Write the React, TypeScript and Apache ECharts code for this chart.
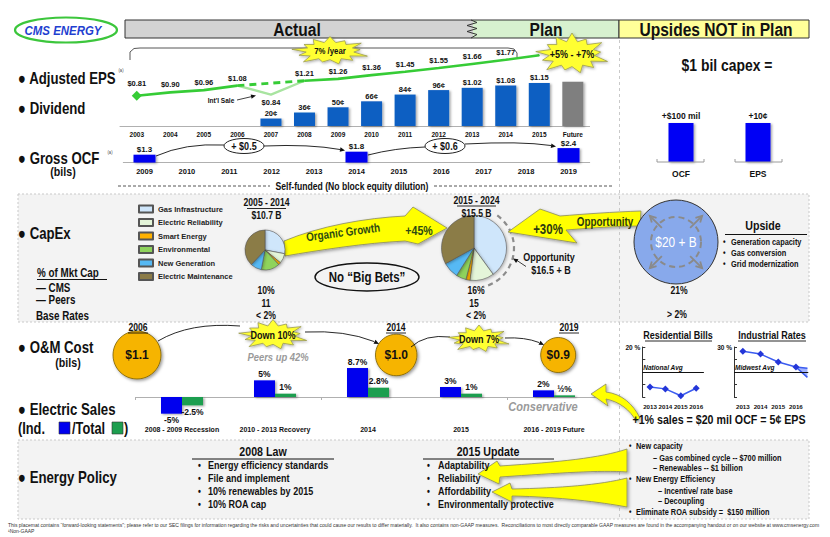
import React, { useEffect, useRef } from "react";
import * as echarts from "echarts";

const FONT = '"Liberation Sans",Arial,Helvetica,sans-serif';
const NARROW = 0.82;

// ---------- data ----------
const epsYears = ["2003", "2004", "2005", "2006", "2007", "2008", "2009", "2010", "2011", "2012", "2013", "2014", "2015", "Future"];
const adjustedEps = [0.81, 0.9, 0.96, 1.08, 0.84, 1.21, 1.26, 1.36, 1.45, 1.55, 1.66, 1.77, 1.89, null];
const dividend = [null, null, null, null, 0.2, 0.36, 0.5, 0.66, 0.84, 0.96, 1.02, 1.08, 1.15, 1.18];

const ocfYears = ["2009", "2010", "2011", "2012", "2013", "2014", "2015", "2016", "2017", "2018", "2019"];
const grossOcf = [1.3, null, null, null, null, 1.8, null, null, null, null, 2.4];

const upsideCats = ["OCF", "EPS"];
const upsideOcfMil = [100, null];
const upsideEpsCents = [null, 10];

const capexNames = ["Gas Infrastructure", "Electric Reliability", "Smart Energy", "Environmental", "New Generation", "Electric Maintenance"];
const capexColors = ["#cfe6fb", "#e4f5d9", "#ffb200", "#8fd35c", "#56b9f4", "#8b7b47"];
const capex2005to2014 = [28, 8, 2, 15, 9, 38];
const capex2015to2024 = [40, 12, 2, 5, 8, 33];

const omYears = [2006, 2014, 2019];
const omCost = [1.1, 1.0, 0.9];

const salesPeriods = ["2008 - 2009 Recession", "2010 - 2013 Recovery", "2014", "2015", "2016 - 2019 Future"];
const salesIndustrial = [-5, 5, 8.7, 3, 2];
const salesTotal = [-2.5, 1, 2.8, 1, 0.5];

const billYears = ["2013", "2014", "2015", "2016"];
const residentialVsNational = [-12, -13.5, -19, -13];
const industrialYears = [2013, 2014, 2015, 2016];
const industrialVsMidwest = [25, 21.5, 12, 6];
const industrialFan = [[2016, 6, 2016.65, 4.4, -6.4]];

// ---------- decorative shapes ----------
const PATHS: Record<string, string> = {
  arrowOrganic: "M284 241 C320 226 365 218 405 216 L413 207 L447 228 L418 244 L405 241 C365 243 320 250 285 256 Z",
  arrowOpp: "M641 211 C612 212 585 214 560 216 L540 209 L508 232 L577 243 L566 230 C592 228 616 226 640 226 Z",
  arrowHalf: "M636 421 C630 410 620 402 606 399 L608 406 L591 394 L606 384 L606 392 C622 394 633 404 640 418 Z",
  arrowRel: "M627 449 C600 458 560 462 500 466 L497 461 L478 474 L499 484 L500 477 C560 473 600 470 627 472 Z",
  arrowAff: "M627 478 C600 485 560 488 512 489 L510 483 L492 492 L512 502 L512 496 C560 497 600 502 627 507 Z",
};
Object.keys(PATHS).forEach((k) => {
  echarts.graphic.registerShape(k, echarts.graphic.extendPath(PATHS[k], {}));
});

function T(x: number, y: number, text: string, size = 10, o: any = {}) {
  return {
    type: "text", x, y, z: o.z ?? 20, silent: true, rotation: o.rot || 0,
    scaleX: o.sx ?? NARROW,
    style: {
      text, fill: o.color || "#111", fontSize: size, fontWeight: o.weight || "bold",
      fontStyle: o.italic ? "italic" : "normal", fontFamily: FONT,
      align: o.align || "center", verticalAlign: "middle",
    },
  };
}
function L(x1: number, y1: number, x2: number, y2: number, o: any = {}) {
  return {
    type: "line", z: o.z ?? 15, silent: true, shape: { x1, y1, x2, y2 },
    style: { stroke: o.color || "#111", lineWidth: o.w || 1, lineDash: o.dash || null },
  };
}
function Q(x1: number, y1: number, cx: number, cy: number, x2: number, y2: number, o: any = {}) {
  return {
    type: "bezierCurve", z: o.z ?? 15, silent: true,
    shape: { x1, y1, x2, y2, cpx1: cx, cpy1: cy },
    style: { stroke: o.color || "#111", lineWidth: o.w || 1, fill: null },
  };
}
function head(tx: number, ty: number, fx: number, fy: number, s = 5, color = "#111", z = 16) {
  const dx = tx - fx, dy = ty - fy, d = Math.hypot(dx, dy) || 1;
  const ux = dx / d, uy = dy / d, px = -uy, py = ux;
  const bx = tx - ux * s, by = ty - uy * s;
  return {
    type: "polygon", z, silent: true,
    shape: { points: [[tx, ty], [bx + px * s * 0.45, by + py * s * 0.45], [bx - px * s * 0.45, by - py * s * 0.45]] },
    style: { fill: color },
  };
}
function star(cx: number, cy: number, rx: number, ry: number, z = 21) {
  const f = [1, 0.8, 0.95, 0.76, 1, 0.86, 0.92, 0.78, 1, 0.83, 0.96, 0.79, 0.9];
  const n = f.length;
  const pts: number[][] = [];
  for (let i = 0; i < n * 2; i++) {
    const a = (Math.PI * i) / n - Math.PI / 2;
    const r = i % 2 === 0 ? f[i / 2] : 0.6;
    pts.push([cx + Math.cos(a) * rx * r, cy + Math.sin(a) * ry * r]);
  }
  return {
    type: "polygon", z, silent: true, shape: { points: pts },
    style: { fill: "#ffff33", stroke: "#9a9a50", lineWidth: 0.8, shadowBlur: 3, shadowColor: "rgba(0,0,0,0.35)", shadowOffsetX: 1, shadowOffsetY: 1 },
  };
}
function yellow(type: string, z = 5) {
  return {
    type, x: 0, y: 0, z, silent: true,
    style: { fill: "#ffff00", stroke: "#8a8a60", lineWidth: 0.8, shadowBlur: 3, shadowColor: "rgba(0,0,0,0.35)", shadowOffsetX: 1.5, shadowOffsetY: 1.5 },
  };
}

function buildGraphics() {
  const g: any[] = [];
  // panels
  g.push({ type: "rect", z: -10, silent: true, shape: { x: 18, y: 194, width: 791, height: 128 }, style: { fill: "#f3f3f3", stroke: "#c9c9c9", lineDash: [2, 2], lineWidth: 1 } });
  g.push({ type: "rect", z: -10, silent: true, shape: { x: 18, y: 440, width: 791, height: 79 }, style: { fill: "#f3f3f3", stroke: "#c9c9c9", lineDash: [2, 2], lineWidth: 1 } });
  g.push(L(619.5, 40, 619.5, 519, { color: "#c9c9c9", dash: [3, 3], z: -5 }));

  // header
  g.push({ type: "rect", z: 5, silent: true, shape: { x: 125, y: 20, width: 348, height: 18 }, style: { fill: "#d3d3d3" } });
  g.push({ type: "rect", z: 5, silent: true, shape: { x: 473, y: 20, width: 146, height: 18 }, style: { fill: "#d7f1cf" } });
  g.push({ type: "polyline", z: 7, silent: true, shape: { points: [[471, 20], [477, 22.5], [467, 25.5], [477, 28.5], [467, 31.5], [477, 34.5], [471, 38]] }, style: { stroke: "#333", lineWidth: 1, fill: null } });
  g.push({ type: "rect", z: 6, silent: true, shape: { x: 125, y: 20, width: 494, height: 18 }, style: { fill: null, stroke: "#333", lineWidth: 1 } });
  g.push({ type: "rect", z: 6, silent: true, shape: { x: 619, y: 20, width: 190, height: 18 }, style: { fill: "#ffff99", stroke: "#333", lineWidth: 1 } });
  g.push(T(297, 29.5, "Actual", 19));
  g.push(T(546, 29.5, "Plan", 19));
  g.push(T(716, 29.5, "Upsides NOT in Plan", 19));

  // logo
  g.push({ type: "ellipse", z: 10, silent: true, shape: { cx: 66, cy: 30, rx: 51, ry: 12.5 }, style: { fill: null, stroke: "#3cc63c", lineWidth: 2.2 } });
  g.push(T(63, 31, "CMS ENERGY", 13, { color: "#1f3fd0", italic: true, sx: 0.88 }));

  // left row titles
  g.push(T(18, 78, "● Adjusted EPS", 16.5, { align: "left", sx: 0.8 }));
  g.push(T(121, 70, "(a)", 5, { color: "#444", weight: "normal" }));
  g.push(T(18, 108, "● Dividend", 16.5, { align: "left", sx: 0.8 }));
  g.push(T(18, 158, "● Gross OCF", 16.5, { align: "left", sx: 0.8 }));
  g.push(T(110, 152, "(a)", 5, { color: "#444", weight: "normal" }));
  g.push(T(63, 172, "(bils)", 13));
  g.push(T(18, 233, "● CapEx", 16.5, { align: "left", sx: 0.8 }));
  g.push(T(37, 272.5, "% of Mkt Cap", 12, { align: "left" }));
  g.push(L(37, 279.5, 107, 279.5, { w: 1 }));
  g.push(T(36, 287.5, "— CMS", 12, { align: "left" }));
  g.push(T(36, 300, "— Peers", 12, { align: "left" }));
  g.push(T(36, 315.5, "Base Rates", 12, { align: "left" }));
  g.push(T(18, 347, "● O&M Cost", 16.5, { align: "left", sx: 0.8 }));
  g.push(T(68, 363, "(bils)", 13));
  g.push(T(18, 409, "● Electric Sales", 16.5, { align: "left", sx: 0.8 }));
  g.push(T(18, 428.5, "(Ind.", 16, { align: "left", sx: 0.8 }));
  g.push({ type: "rect", z: 20, silent: true, shape: { x: 59, y: 422, width: 11, height: 12 }, style: { fill: "#0000ee", stroke: "#333", lineWidth: 0.6 } });
  g.push(T(72, 428.5, "/Total", 16, { align: "left", sx: 0.8 }));
  g.push({ type: "rect", z: 20, silent: true, shape: { x: 112, y: 422, width: 11, height: 12 }, style: { fill: "#1d9e4f", stroke: "#333", lineWidth: 0.6 } });
  g.push(T(124, 428.5, ")", 16, { align: "left", sx: 0.8 }));
  g.push(T(18, 477, "● Energy Policy", 16.5, { align: "left", sx: 0.8 }));

  // EPS decorations
  g.push({ type: "polyline", z: 8, silent: true, shape: { points: [[130, 60], [130, 52], [134, 48.5], [140, 48], [508, 48], [514, 49], [517, 53], [517, 57]] }, style: { stroke: "#444", lineWidth: 0.9, fill: null } });
  g.push(star(330, 51, 40, 14.5));
  g.push(T(330, 51, "7% /year", 9.5, { z: 22 }));
  g.push(star(572, 54, 38, 21));
  g.push(T(572, 54, "+5% - +7%", 11, { z: 22 }));
  g.push(T(221, 100, "Int'l Sale", 8));
  g.push(L(237, 100, 252, 96.5, { w: 0.8 }));
  g.push(head(256, 95.5, 237, 100, 5));

  // upside capex
  g.push(T(727, 65, "$1 bil capex =", 17));
  [[657, 704], [735, 782]].forEach(([a, b]) => {
    g.push(L(a, 162, b, 162, { color: "#9a9a9a" }));
    g.push(L(a, 159, a, 162, { color: "#9a9a9a" }));
    g.push(L(b, 159, b, 162, { color: "#9a9a9a" }));
  });

  // OCF
  g.push({ type: "ellipse", z: 18, silent: true, shape: { cx: 244, cy: 146, rx: 20, ry: 7.5 }, style: { fill: "#fff", stroke: "#222", lineWidth: 1 } });
  g.push(T(244, 146, "+ $0.5", 11));
  g.push({ type: "ellipse", z: 18, silent: true, shape: { cx: 445, cy: 146, rx: 20, ry: 7.5 }, style: { fill: "#fff", stroke: "#222", lineWidth: 1 } });
  g.push(T(445, 146, "+ $0.6", 11));
  g.push(Q(156, 156, 185, 143, 224, 145, { w: 0.9 }));
  g.push(Q(264, 146, 310, 144, 340, 149.5, { w: 0.9 }));
  g.push(head(345, 150.5, 336, 148.8, 5));
  g.push(Q(368, 155, 395, 148, 425, 147, { w: 0.9 }));
  g.push(Q(465, 144, 520, 141, 551, 145.5, { w: 0.9 }));
  g.push(head(556, 146.5, 547, 145, 5));
  g.push(T(352, 186, "Self-funded (No block equity dilution)", 10.5));
  g.push(L(118, 186, 270, 186, { color: "#555", dash: [3, 2] }));
  g.push(L(434, 186, 612, 186, { color: "#555", dash: [3, 2] }));

  // capex
  g.push(T(266.5, 202.5, "2005 - 2014", 10.5));
  g.push(L(247, 208.5, 286, 208.5, { w: 0.9 }));
  g.push(T(266.5, 215.5, "$10.7 B", 10.5));
  g.push(T(476.5, 200, "2015 - 2024", 10.5));
  g.push(L(457, 206, 496, 206, { w: 0.9 }));
  g.push(T(476.5, 213.5, "$15.5 B", 10.5));
  g.push(yellow("arrowOrganic", 1));
  g.push(T(343, 232, "Organic Growth", 12, { rot: 0.13, color: "#2d4a12" }));
  g.push(T(419, 231, "+45%", 13, { color: "#2d4a12" }));
  g.push({ type: "arc", z: 4, silent: true, shape: { cx: 474, cy: 248, r: 40, startAngle: -0.95, endAngle: 1.35, clockwise: true }, style: { stroke: "#8c8c8c", lineWidth: 2.2, lineDash: [5, 4], fill: null } });
  g.push(T(549, 257.5, "Opportunity", 11));
  g.push(T(551, 270, "$16.5 + B", 11));
  g.push(L(526, 266.5, 517, 260.5, { w: 0.8 }));
  g.push(head(513, 258.5, 526, 266.5, 5));
  g.push(yellow("arrowOpp", 9));
  g.push(T(548, 229.5, "+30%", 14, { color: "#2d3a10" }));
  g.push(T(605, 221.5, "Opportunity", 12, { color: "#2d3a10" }));
  g.push({ type: "circle", z: 12, silent: true, shape: { cx: 676, cy: 242, r: 42 }, style: { fill: "#88a9eb", stroke: "#333", lineWidth: 1 } });
  g.push({ type: "circle", z: 13, silent: true, shape: { cx: 676, cy: 242, r: 25 }, style: { fill: null, stroke: "#8a8a8a", lineWidth: 2, lineDash: [6, 4] } });
  [-Math.PI / 4, (-3 * Math.PI) / 4, (3 * Math.PI) / 4, Math.PI / 4].forEach((a) => {
    const x1 = 676 + Math.cos(a) * 20, y1 = 242 + Math.sin(a) * 20;
    const x2 = 676 + Math.cos(a) * 37, y2 = 242 + Math.sin(a) * 37;
    g.push(L(x1, y1, x2, y2, { color: "#8a8a8a", w: 1.8, z: 13 }));
    const b1 = a + Math.PI - 0.5, b2 = a + Math.PI + 0.5;
    g.push({ type: "polyline", z: 13, silent: true, shape: { points: [[x2 + Math.cos(b1) * 7, y2 + Math.sin(b1) * 7], [x2, y2], [x2 + Math.cos(b2) * 7, y2 + Math.sin(b2) * 7]] }, style: { stroke: "#8a8a8a", lineWidth: 1.8, fill: null } });
  });
  g.push(T(676, 242, "$20 + B", 14.5, { color: "#fff", z: 24, weight: "normal" }));
  g.push(T(763, 226, "Upside", 13));
  g.push(L(725, 234.5, 807, 234.5, { w: 1 }));
  ["Generation capacity", "Gas conversion", "Grid modernization"].forEach((s, i) => {
    g.push(T(723, 242.5 + i * 11, "•", 9, { align: "left" }));
    g.push(T(731, 242.5 + i * 11, s, 9, { align: "left" }));
  });
  g.push({ type: "ellipse", z: 14, silent: true, shape: { cx: 367, cy: 277, rx: 52, ry: 14 }, style: { fill: null, stroke: "#111", lineWidth: 1.4 } });
  g.push(T(367, 277, "No \u201cBig Bets\u201d", 14));
  g.push(T(266, 290, "10%", 10.5));
  g.push(T(266, 303, "11", 10.5));
  g.push(T(266, 315, "< 2%", 10.5));
  g.push(T(476, 290, "16%", 10.5));
  g.push(T(474, 303, "15", 10.5));
  g.push(T(476, 315, "< 2%", 10.5));
  g.push(T(679, 290, "21%", 10.5));
  g.push(T(677, 314, "> 2%", 10.5));

  // O&M
  g.push(T(138, 327, "2006", 10.5));
  g.push(L(128, 333, 148, 333, { w: 0.9 }));
  g.push(T(396, 327, "2014", 10.5));
  g.push(L(386, 333, 406, 333, { w: 0.9 }));
  g.push(T(569, 327, "2019", 10.5));
  g.push(L(559, 333, 579, 333, { w: 0.9 }));
  g.push(Q(158, 341, 190, 322, 240, 326, { w: 0.9 }));
  g.push(Q(305, 332, 345, 330, 374, 341.5, { w: 0.9 }));
  g.push(head(379, 344, 370, 339.5, 5));
  g.push(Q(411, 347, 425, 334, 450, 337, { w: 0.9 }));
  g.push(Q(505, 338, 525, 337, 539, 342.5, { w: 0.9 }));
  g.push(head(544, 345, 535, 340.5, 5));
  g.push(star(273, 335, 36, 15.5));
  g.push(T(273, 335, "Down 10%", 11, { z: 22 }));
  g.push(star(479, 339, 32, 14));
  g.push(T(479, 339, "Down 7%", 11, { z: 22 }));
  g.push(T(278, 357, "Peers up 42%", 11.5, { italic: true, color: "#9a9a9a" }));
  g.push(T(543, 407, "Conservative", 13.5, { italic: true, color: "#9a9a9a" }));
  g.push(yellow("arrowHalf", 5));

  // mini charts titles
  g.push(T(678, 335, "Residential Bills", 11));
  g.push(L(645, 341, 712, 341, { w: 0.9 }));
  g.push(T(772, 335, "Industrial Rates", 11));
  g.push(L(738, 341, 806, 341, { w: 0.9 }));
  g.push(T(719, 420, "+1% sales = $20 mil OCF = 5\u00a2 EPS", 13));

  // energy policy
  g.push(T(263, 452, "2008 Law", 13));
  g.push(L(192, 459, 334, 459, { w: 1 }));
  ["Energy efficiency standards", "File and implement", "10% renewables by 2015", "10% ROA cap"].forEach((s, i) => {
    g.push(T(198, 465.5 + i * 13, "•", 10, { align: "left" }));
    g.push(T(208, 465.5 + i * 13, s, 11, { align: "left" }));
  });
  g.push(T(488, 452, "2015 Update", 13));
  g.push(L(423, 459, 554, 459, { w: 1 }));
  ["Adaptability", "Reliability", "Affordability", "Environmentally protective"].forEach((s, i) => {
    g.push(T(427, 465.5 + i * 13, "•", 10, { align: "left" }));
    g.push(T(438, 465.5 + i * 13, s, 11, { align: "left" }));
  });
  g.push(yellow("arrowRel", 8));
  g.push(yellow("arrowAff", 8));
  const rp: [number, number, string, boolean][] = [
    [636, 446, "New capacity", true],
    [653, 458, "\u2013 Gas combined cycle -- $700 million", false],
    [653, 468.5, "\u2013 Renewables -- $1 billion", false],
    [636, 479.5, "New Energy Efficiency", true],
    [658, 491, "\u2013 Incentive/ rate base", false],
    [658, 501.5, "\u2013 Decoupling", false],
    [636, 512, "Eliminate ROA subsidy =  $150 million", true],
  ];
  rp.forEach(([x, y, s, b]) => {
    if (b) g.push(T(629, y, "•", 8.5, { align: "left" }));
    g.push(T(x, y, s, 9, { align: "left" }));
  });

  // footer
  g.push(T(8, 525, "This placemat contains \u201cforward-looking statements\u201d; please refer to our SEC filings for information regarding the risks and uncertainties that could cause our results to differ materially.  It also contains non-GAAP measures.  Reconciliations to most directly comparable GAAP measures are found in the accompanying handout or on our website at www.cmsenergy.com", 5, { align: "left", weight: "normal", color: "#333", sx: 1.0 }));
  g.push(T(8, 531, "\u00b9Non-GAAP", 5, { align: "left", weight: "normal", color: "#333", sx: 1.0 }));
  return g;
}

function buildOption() {
  const lab = (size = 8, extra: any = {}) => ({ show: true, fontSize: size, fontWeight: "bold", fontFamily: FONT, color: "#111", ...extra });
  const hiddenVal = (o: any = {}) => ({ type: "value", show: false, splitLine: { show: false }, ...o });
  const i2006 = 3, i2007 = 4, i2008 = 5;
  const epsA = adjustedEps.map((v, i) => (i <= i2006 ? (i === 0 ? { value: v, symbol: "diamond", symbolSize: 10 } : v) : "-"));
  const epsDash = adjustedEps.map((v, i) => (i === i2006 || i === i2008 ? v : "-"));
  const epsDip = adjustedEps.map((v, i) => (i >= i2006 && i <= i2008 ? (i === i2007 ? { value: v, label: { show: true } } : v) : "-"));
  const epsB = adjustedEps.map((v, i) => (i >= i2008 && v != null ? v : "-"));
  const lastEps = adjustedEps.findIndex((v) => v == null) - 1;
  const divData = dividend.map((v, i) => (v == null ? "-" : i === dividend.length - 1 ? { value: v, itemStyle: { color: "#7f7f7f" }, label: { show: false } } : v));
  const eps$ = (p: any) => "$" + Number(p.value).toFixed(2);
  const shadow = { shadowColor: "rgba(0,0,0,0.35)", shadowBlur: 2, shadowOffsetX: 1.5, shadowOffsetY: 1 };
  const pct = (p: any) => { const v = Number(p.value); return v === 0.5 ? "\u00bd%" : v + "%"; };
  const axLab = (size: number, margin: number, extra: any = {}) => ({ fontSize: size, fontWeight: "bold", color: "#111", margin, fontFamily: FONT, ...extra });

  return {
    animation: false,
    backgroundColor: "#ffffff",
    textStyle: { fontFamily: FONT },
    legend: {
      data: capexNames, orient: "vertical", left: 133, top: 199.5, itemWidth: 14, itemHeight: 7, itemGap: 4.5,
      icon: "rect", selectedMode: false,
      textStyle: { fontSize: 7.5, fontWeight: "bold", fontFamily: FONT, color: "#222" },
    },
    grid: [
      { left: 120, top: 32.5, width: 469.6, height: 93.5 },
      { left: 642.5, top: 111.3, width: 154, height: 50.7 },
      { left: 123.3, top: 138.5, width: 466.4, height: 24 },
      { left: 135.5, top: 363.7, width: 465, height: 53.3 },
      { left: 642.3, top: 347, width: 61.6, height: 50 },
      { left: 734, top: 347, width: 74.3, height: 50 },
      { left: 137, top: 340, width: 421.2, height: 30 },
    ],
    xAxis: [
      { type: "category", gridIndex: 0, data: epsYears, axisLine: { lineStyle: { color: "#b0b0b0" } }, axisTick: { lineStyle: { color: "#b0b0b0" }, length: 3 }, axisLabel: axLab(6.5, 4.5, { interval: 0 }) },
      { type: "category", gridIndex: 1, data: upsideCats, axisLine: { show: false }, axisTick: { show: false }, axisLabel: axLab(8.5, 7) },
      { type: "category", gridIndex: 2, data: ocfYears, axisLine: { lineStyle: { color: "#b0b0b0" } }, axisTick: { lineStyle: { color: "#b0b0b0" }, length: 3 }, axisLabel: axLab(7.5, 5, { interval: 0 }) },
      { type: "category", gridIndex: 3, data: salesPeriods, position: "bottom", axisLine: { show: false, onZero: false }, axisTick: { show: false }, axisLabel: axLab(7, 9, { interval: 0 }) },
      { type: "category", gridIndex: 3, data: salesPeriods, position: "bottom", axisLine: { show: true, onZero: true, lineStyle: { color: "#b0b0b0" } }, axisTick: { show: true, length: 3, lineStyle: { color: "#b0b0b0" } }, axisLabel: { show: false } },
      { type: "category", gridIndex: 4, data: billYears, axisLine: { show: false }, axisTick: { show: false }, axisLabel: axLab(6.2, 6, { interval: 0 }) },
      { type: "value", gridIndex: 5, min: 2012.5, max: 2016.7, splitLine: { show: false }, axisLine: { show: false }, axisTick: { show: false }, axisLabel: axLab(6.2, 6, { customValues: industrialYears, formatter: (v: number) => String(Math.round(v)) }) },
      hiddenVal({ gridIndex: 6, min: 2006, max: 2019 }),
    ],
    yAxis: [
      hiddenVal({ gridIndex: 0, min: 0, max: 2.5 }),
      hiddenVal({ gridIndex: 1, min: 0, max: 130 }),
      hiddenVal({ gridIndex: 1, min: 0, max: 13 }),
      hiddenVal({ gridIndex: 2, min: 0, max: 4 }),
      hiddenVal({ gridIndex: 3, min: -6, max: 10 }),
      { type: "value", gridIndex: 4, min: -20, max: 20, interval: 10, splitLine: { show: false }, axisLine: { show: true, onZero: false, lineStyle: { color: "#333" } }, axisTick: { show: true, inside: true, length: 3, lineStyle: { color: "#333" } }, axisLabel: axLab(6.5, 2, { formatter: (v: number) => (v === 20 ? "20 %" : "") }) },
      { type: "value", gridIndex: 5, min: -30, max: 30, interval: 15, splitLine: { show: false }, axisLine: { show: true, onZero: false, lineStyle: { color: "#333" } }, axisTick: { show: true, inside: true, length: 3, lineStyle: { color: "#333" } }, axisLabel: axLab(6.5, 2, { formatter: (v: number) => (v === 30 ? "30 %" : "") }) },
      { type: "category", gridIndex: 6, data: ["O&M"], show: false },
    ],
    series: [
      { type: "bar", name: "Dividend", xAxisIndex: 0, yAxisIndex: 0, barWidth: 21, data: divData, z: 2,
        itemStyle: { color: "#0f5fc2", ...shadow },
        label: lab(7.5, { position: "top", distance: 1, formatter: (p: any) => { const v = Number(p.value); return v < 1 ? Math.round(v * 100) + "\u00a2" : "$" + v.toFixed(2); } }) },
      { type: "line", name: "EPS a", xAxisIndex: 0, yAxisIndex: 0, data: epsA, z: 4, symbol: "circle", symbolSize: 1,
        lineStyle: { color: "#36cc36", width: 2.6 }, itemStyle: { color: "#36cc36" }, label: lab(7.5, { position: "top", distance: 3, formatter: eps$ }) },
      { type: "line", name: "EPS dashed", xAxisIndex: 0, yAxisIndex: 0, data: epsDash, connectNulls: true, z: 4, symbol: "none",
        lineStyle: { color: "#36cc36", width: 2.8, type: [7, 5] } },
      { type: "line", name: "EPS intl", xAxisIndex: 0, yAxisIndex: 0, data: epsDip, z: 3, symbol: "circle", symbolSize: 1,
        lineStyle: { color: "#a8e4a0", width: 2.4 }, itemStyle: { color: "#a8e4a0" }, label: lab(7.5, { show: false, position: "bottom", distance: 3, formatter: eps$ }) },
      { type: "line", name: "EPS b", xAxisIndex: 0, yAxisIndex: 0, data: epsB, z: 4, symbol: "circle", symbolSize: 1,
        lineStyle: { color: "#36cc36", width: 2.6 }, itemStyle: { color: "#36cc36" },
        label: lab(7.5, { position: "top", distance: 3, formatter: (p: any) => (p.dataIndex === lastEps ? "" : eps$(p)) }) },
      { type: "bar", name: "Upside OCF", xAxisIndex: 1, yAxisIndex: 1, data: upsideOcfMil.map((v) => (v == null ? "-" : v)), barWidth: 25, barGap: "-100%",
        itemStyle: { color: "#0000f5", ...shadow }, label: lab(8.5, { position: "top", distance: 3, formatter: (p: any) => "+$" + p.value + " mil" }) },
      { type: "bar", name: "Upside EPS", xAxisIndex: 1, yAxisIndex: 2, data: upsideEpsCents.map((v) => (v == null ? "-" : v)), barWidth: 25, barGap: "-100%",
        itemStyle: { color: "#0000f5", ...shadow }, label: lab(8.5, { position: "top", distance: 3, formatter: (p: any) => "+" + p.value + "\u00a2" }) },
      { type: "bar", name: "Gross OCF", xAxisIndex: 2, yAxisIndex: 3, data: grossOcf.map((v) => (v == null ? "-" : v)), barWidth: 22,
        itemStyle: { color: "#0000f0", ...shadow }, label: lab(8, { position: "top", distance: 1, formatter: (p: any) => "$" + Number(p.value).toFixed(1) }) },
      { type: "pie", name: "2005-2014", center: [265, 250], radius: 20, startAngle: 90, silent: true, z: 3,
        label: { show: false }, labelLine: { show: false },
        itemStyle: { borderColor: "#555", borderWidth: 0.6, shadowBlur: 3, shadowColor: "rgba(0,0,0,0.3)", shadowOffsetX: 1, shadowOffsetY: 1 },
        data: capexNames.map((n, i) => ({ name: n, value: capex2005to2014[i], itemStyle: { color: capexColors[i] } })) },
      { type: "pie", name: "2015-2024", center: [474, 248], radius: 32.5, startAngle: 90, silent: true, z: 3,
        label: { show: false }, labelLine: { show: false },
        itemStyle: { borderColor: "#555", borderWidth: 0.6, shadowBlur: 3, shadowColor: "rgba(0,0,0,0.3)", shadowOffsetX: 1, shadowOffsetY: 1 },
        data: capexNames.map((n, i) => ({ name: n, value: capex2015to2024[i], itemStyle: { color: capexColors[i] } })) },
      { type: "bar", name: "Industrial sales", xAxisIndex: 3, yAxisIndex: 4, barWidth: 21, barGap: "0%",
        itemStyle: { color: "#0000ee", ...shadow },
        data: salesIndustrial.map((v) => ({ value: v, label: { position: v < 0 ? "bottom" : "top" } })),
        label: lab(8.5, { distance: 2, formatter: pct }) },
      { type: "bar", name: "Total sales", xAxisIndex: 3, yAxisIndex: 4, barWidth: 21, barGap: "0%",
        itemStyle: { color: "#1d9e4f", ...shadow },
        data: salesTotal.map((v) => ({ value: v, label: { position: v < 0 ? "bottom" : "top" } })),
        label: lab(8.5, { distance: 2, formatter: pct }) },
      { type: "line", name: "Residential", xAxisIndex: 5, yAxisIndex: 5, data: residentialVsNational, symbol: "diamond", symbolSize: 7,
        lineStyle: { color: "#3b5cf0", width: 1.5 }, itemStyle: { color: "#2436d8" },
        markLine: { silent: true, symbol: ["none", "none"], data: [{ yAxis: 0 }], lineStyle: { color: "#111", type: "solid", width: 1 },
          label: { position: "insideStartTop", formatter: "National Avg", fontStyle: "italic", fontWeight: "bold", fontSize: 6.5, color: "#111", fontFamily: FONT, distance: [1, 1] } } },
      { type: "line", name: "Industrial", xAxisIndex: 6, yAxisIndex: 6, data: industrialYears.map((y, i) => [y, industrialVsMidwest[i]]), symbol: "diamond", symbolSize: 7,
        lineStyle: { color: "#3b5cf0", width: 1.5 }, itemStyle: { color: "#2436d8" }, z: 4,
        markLine: { silent: true, symbol: ["none", "none"], data: [{ yAxis: 0 }], lineStyle: { color: "#111", type: "solid", width: 1 },
          label: { position: "insideStartTop", formatter: "Midwest Avg", fontStyle: "italic", fontWeight: "bold", fontSize: 6.5, color: "#111", fontFamily: FONT, distance: [1, 1] } } },
      { type: "custom", name: "Industrial outlook", xAxisIndex: 6, yAxisIndex: 6, data: industrialFan, z: 3,
        renderItem: (_p: any, api: any) => {
          const a = api.coord([api.value(0), api.value(1)]);
          const b = api.coord([api.value(2), api.value(3)]);
          const c = api.coord([api.value(2), api.value(4)]);
          return { type: "group", children: [
            { type: "polygon", shape: { points: [a, b, c] }, style: { fill: "rgba(90,120,255,0.55)" } },
            { type: "polyline", shape: { points: [b, a, c] }, style: { stroke: "#3b5cf0", lineWidth: 1.5, fill: null } },
          ] };
        } },
      { type: "scatter", name: "O&M", xAxisIndex: 7, yAxisIndex: 7, data: omYears.map((y, i) => [y, 0, omCost[i]]), z: 5,
        symbolSize: (val: any) => 35 + (val[2] - 0.9) * 65,
        itemStyle: { color: "#f6b400", borderColor: "#7a6000", borderWidth: 0.8, opacity: 1, shadowBlur: 3, shadowColor: "rgba(0,0,0,0.4)", shadowOffsetX: 1.5, shadowOffsetY: 1.5 },
        label: lab(12, { position: "inside", formatter: (p: any) => "$" + Number(p.value[2]).toFixed(1) }) },
    ],
    graphic: { elements: buildGraphics() },
  };
}

export default function App() {
  const ref = useRef<HTMLDivElement>(null);
  useEffect(() => {
    if (!ref.current) return;
    const chart = echarts.init(ref.current, null, { renderer: "svg" });
    chart.setOption(buildOption() as any);
    return () => chart.dispose();
  }, []);
  return <div ref={ref} style={{ position: "absolute", left: 0, top: 0, width: 830, height: 537, background: "#fff" }} />;
}
